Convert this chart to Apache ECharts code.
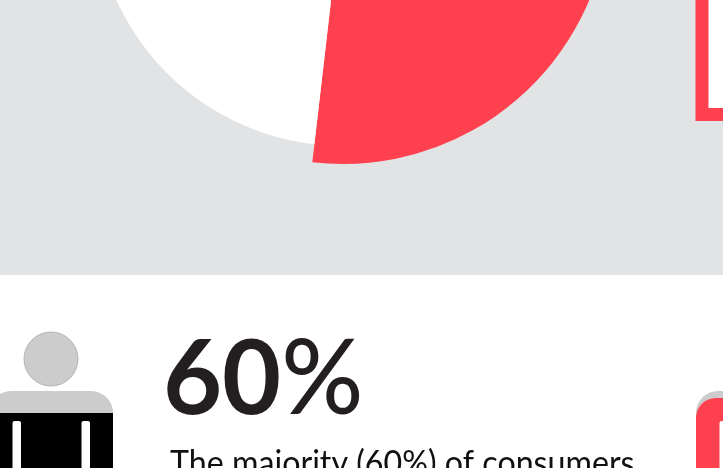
<!DOCTYPE html>
<html>
<head>
<meta charset="utf-8">
<style>html,body{margin:0;padding:0;background:#fff}#chart{width:723px;height:468px}</style>
<script src="https://cdn.jsdelivr.net/npm/echarts@6/dist/echarts.min.js"></script>
</head>
<body>
<div id="chart"></div>
<script>
// Consumer split shown by the pie and the headline
const categories = ['Majority', 'Others'];
const shares = [60, 40];
const sentence = 'The majority (' + shares[0] + '%) of consumers';

const RED = '#ff404f';
const PANEL = '#e2e3e5';
const ICON_GREY = '#cccccc';
const INK = '#231f20';

const center = [343, -103];
const startAngle = 119.4;

// A slice is drawn in one ring; its partner stays invisible so the angles stay shared
function ring(radius, visibleIndex, color) {
  return {
    type: 'pie',
    center: center,
    radius: [0, radius],
    startAngle: startAngle,
    silent: true,
    animation: false,
    label: { show: false },
    labelLine: { show: false },
    data: categories.map((name, i) => ({
      name: name,
      value: shares[i],
      itemStyle: { color: i === visibleIndex ? color : 'transparent' }
    }))
  };
}

// Person pictogram: head, shoulders, filled torso and the gaps beside the arms
function person(x, fill) {
  const bodyW = 124, top = 391, fillTop = fill === RED ? 398 : 413;
  const parts = [
    { type: 'rect', shape: { x: x, y: top, width: bodyW, height: 110, r: 22 },
      style: { fill: ICON_GREY } }
  ];
  if (fill === RED) {
    parts.push({ type: 'rect', shape: { x: x, y: fillTop, width: bodyW, height: 110, r: 20 },
      style: { fill: fill } });
  } else {
    parts.push({ type: 'rect', shape: { x: x, y: fillTop, width: bodyW, height: 70 },
      style: { fill: fill } });
  }
  parts.push(
    { type: 'rect', shape: { x: x + 23.5, y: 421, width: 8.5, height: 60, r: [2, 2, 0, 0] },
      style: { fill: '#fff' } },
    { type: 'rect', shape: { x: x + 92.5, y: 421, width: 8.5, height: 60, r: [2, 2, 0, 0] },
      style: { fill: '#fff' } },
    { type: 'circle', shape: { cx: x + 62, cy: 359, r: 27 },
      style: { fill: ICON_GREY, stroke: '#a8a8a8', lineWidth: 0.8 } }
  );
  return parts;
}

const chart = echarts.init(document.getElementById('chart'));
chart.setOption({
  animation: false,
  backgroundColor: '#ffffff',
  graphic: [
    { type: 'rect', z: 0, shape: { x: 0, y: 0, width: 723, height: 275 }, style: { fill: PANEL } },
    { type: 'group', z: 5, silent: true, children: [
      { type: 'rect', shape: { x: 695.5, y: -20, width: 60, height: 141 }, style: { fill: RED } },
      { type: 'rect', shape: { x: 708.5, y: -20, width: 60, height: 128 }, style: { fill: '#fff' } }
    ]},
    { type: 'group', z: 5, silent: true, children: person(-11, '#000000') },
    { type: 'group', z: 5, silent: true, children: person(696, RED) },
    { type: 'text', z: 5, x: 163, y: 328, scaleX: 0.98,
      style: {
        text: '{n|' + shares[0] + '}{p|%}',
        rich: {
          n: { fontFamily: 'Lato', fontWeight: 700, fontSize: 104, fill: INK, textFill: INK },
          p: { fontFamily: 'Lato', fontWeight: 500, fontSize: 104, fill: INK, textFill: INK }
        }
      } },
    { type: 'text', z: 5, x: 170, y: 446, scaleX: 0.92,
      style: { text: sentence, fontFamily: 'Lato', fontWeight: 400, fontSize: 35, fill: '#111111' } }
  ],
  series: [ring(267, 0, RED), ring(249, 1, '#ffffff')]
});
</script>
</body>
</html>
